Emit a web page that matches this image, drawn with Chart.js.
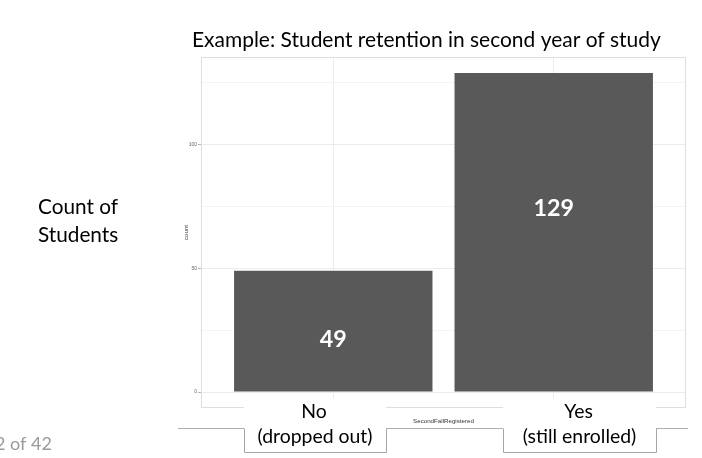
<!DOCTYPE html>
<html>
<head>
<meta charset="utf-8">
<title>Student retention</title>
<script src="https://cdn.jsdelivr.net/npm/chart.js@4.4.1/dist/chart.umd.min.js"></script>
<style>
  html, body { margin: 0; padding: 0; background: #fff; }
  #wrap { position: relative; width: 702px; height: 458px; }
</style>
</head>
<body>
<div id="wrap"><canvas id="retention"></canvas></div>
<script>
// data
const categories = ['No', 'Yes'];
const categoryNotes = ['(dropped out)', '(still enrolled)'];
const counts = [49, 129];
const yTickValues = [0, 50, 100];
const yMinorValues = [25, 75, 125];

const slideTitle = 'Example: Student retention in second year of study';
const sideLabel = ['Count of', 'Students'];
const pageLabel = '2 of 42';

const SLIDE_FONT = 'Lato, "Open Sans", sans-serif';
const PLOT_FONT = '"Liberation Sans", Arial, sans-serif';

// ggplot style expansion of the ranges
const yPad = Math.max(...counts) * 0.05;

function fitSize(ctx, text, weight, width) {
    ctx.font = weight + ' 100px ' + SLIDE_FONT;
    return 100 * width / ctx.measureText(text).width;
}

function put(ctx, text, x, y, size, weight, color, align) {
    ctx.font = weight + ' ' + size + 'px ' + SLIDE_FONT;
    ctx.fillStyle = color;
    ctx.textAlign = align || 'left';
    ctx.textBaseline = 'alphabetic';
    ctx.fillText(text, x, y);
}

// grey frame round the panel, like theme_light
const panelBorder = {
    id: 'panelBorder',
    afterDatasetsDraw(chart) {
        const { ctx, chartArea: a } = chart;
        ctx.save();
        ctx.strokeStyle = '#dedede';
        ctx.lineWidth = 1;
        ctx.strokeRect(a.left + 0.5, a.top + 0.5, a.right - a.left - 1, a.bottom - a.top - 1);
        ctx.restore();
    }
};

// big white numbers on the bars
const valueLabels = {
    id: 'valueLabels',
    afterDatasetsDraw(chart) {
        const { ctx } = chart;
        const x = chart.scales.x, y = chart.scales.y;
        const labelAt = [22, 75];
        ctx.save();
        const size = fitSize(ctx, '49', 'bold', 27);
        counts.forEach((v, i) => {
            put(ctx, String(v), x.getPixelForValue(i + 1), y.getPixelForValue(labelAt[i]) + 9, size, 'bold', '#ffffff', 'center');
        });
        ctx.restore();
    }
};

// text and boxes laid over the plot on the slide
const slideOverlay = {
    id: 'slideOverlay',
    afterDraw(chart) {
        const { ctx } = chart;
        ctx.save();

        put(ctx, slideTitle, 192, 47, fitSize(ctx, slideTitle, 'normal', 469), 'normal', '#000000');

        const sideSize = fitSize(ctx, sideLabel[0], 'normal', 80);
        put(ctx, sideLabel[0], 38, 214, sideSize, 'normal', '#000000');
        put(ctx, sideLabel[1], 38, 242, sideSize, 'normal', '#000000');

        put(ctx, pageLabel, -5, 450, 18, 'normal', '#9a9a9a');

        // line under the plot
        ctx.strokeStyle = '#b0b0b0';
        ctx.lineWidth = 1;
        ctx.beginPath();
        ctx.moveTo(178, 428.5);
        ctx.lineTo(688, 428.5);
        ctx.stroke();

        const boxes = [[244, 386], [503, 656]];
        const boxSize = fitSize(ctx, categoryNotes[0], 'normal', 115);
        boxes.forEach(([l, r], i) => {
            ctx.fillStyle = '#ffffff';
            ctx.fillRect(l, 399, r - l, 54);
            ctx.strokeStyle = '#a6a6a6';
            ctx.beginPath();
            ctx.moveTo(l + 0.5, 428.5);
            ctx.lineTo(l + 0.5, 452.5);
            ctx.lineTo(r + 0.5, 452.5);
            ctx.lineTo(r + 0.5, 428.5);
            ctx.stroke();
            const cx = (l + r) / 2;
            put(ctx, categories[i], cx - 1, 418, boxSize, 'normal', '#000000', 'center');
            put(ctx, categoryNotes[i], cx, 443, boxSize, 'normal', '#000000', 'center');
        });

        ctx.restore();
    }
};

document.addEventListener('DOMContentLoaded', function() {
    const ctx = document.getElementById('retention');
    new Chart(ctx, {
        type: 'bar',
        data: {
            datasets: [{
                label: 'count',
                data: categories.map((c, i) => ({ x: i + 1, y: counts[i] })),
                backgroundColor: '#595959',
                borderWidth: 0,
                barPercentage: 0.9,
                categoryPercentage: 1
            }]
        },
        options: {
            responsive: true,
            maintainAspectRatio: false,
            animation: false,
            layout: { padding: { left: 0, top: 57, right: 16, bottom: 0 } },
            plugins: {
                legend: { display: false },
                tooltip: { enabled: false }
            },
            scales: {
                x: {
                    type: 'linear',
                    min: 0.4,
                    max: 2.6,
                    offset: false,
                    afterBuildTicks: (scale) => {
                        scale.ticks = categories.map((c, i) => ({ value: i + 1 }));
                    },
                    afterFit: (scale) => { scale.height = 50; },
                    ticks: { display: false },
                    grid: { offset: false, color: '#ededed', lineWidth: 1, drawTicks: false },
                    border: { display: false },
                    title: {
                        display: true,
                        text: 'SecondFallRegistered',
                        color: '#333333',
                        font: { family: PLOT_FONT, size: 6.2 },
                        padding: { top: 0, bottom: 33 }
                    }
                },
                y: {
                    min: -yPad,
                    max: Math.max(...counts) + yPad,
                    afterBuildTicks: (scale) => {
                        scale.ticks = yTickValues.concat(yMinorValues)
                            .sort((a, b) => a - b)
                            .map(v => ({ value: v }));
                    },
                    afterFit: (scale) => { scale.width = 201; },
                    ticks: {
                        padding: 1,
                        color: '#666666',
                        font: { family: PLOT_FONT, size: 5 },
                        callback: (v) => yTickValues.includes(v) ? String(v) : ''
                    },
                    grid: {
                        color: (c) => yTickValues.includes(c.tick.value) ? '#ebebeb' : '#f4f4f4',
                        lineWidth: 1,
                        tickLength: 3,
                        tickColor: (c) => yTickValues.includes(c.tick.value) ? '#b5b5b5' : 'rgba(0,0,0,0)'
                    },
                    border: { display: false },
                    title: {
                        display: true,
                        text: 'count',
                        color: '#333333',
                        font: { family: PLOT_FONT, size: 6.2 },
                        padding: { top: 183, bottom: 0 }
                    }
                }
            }
        },
        plugins: [panelBorder, valueLabels, slideOverlay]
    });
});
</script>
</body>
</html>
